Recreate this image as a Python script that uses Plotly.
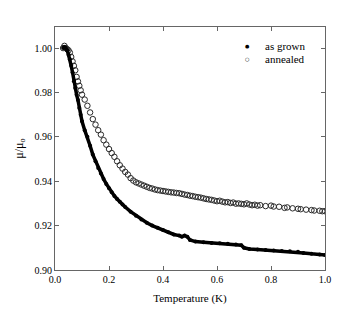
import plotly.graph_objects as go

# as grown (filled circles)
grown_T = [0.03, 0.035, 0.04, 0.045, 0.05, 0.055, 0.06, 0.065, 0.07, 0.075, 0.08, 0.085, 0.09, 0.095,
           0.10, 0.11, 0.12, 0.13, 0.14, 0.15, 0.16, 0.17, 0.18, 0.19, 0.20, 0.21, 0.22, 0.23, 0.24, 0.25,
           0.26, 0.28, 0.30, 0.32, 0.34, 0.36, 0.38, 0.40, 0.42, 0.44, 0.46, 0.47, 0.48, 0.49, 0.50, 0.52,
           0.55, 0.58, 0.61, 0.64, 0.67, 0.69, 0.70, 0.72, 0.75, 0.78, 0.81, 0.84, 0.87, 0.90, 0.92, 0.95,
           0.98, 1.00]
grown_mu = [1.000, 1.0005, 1.000, 0.999, 0.997, 0.995, 0.992, 0.989, 0.985, 0.982, 0.979, 0.9766, 0.973, 0.970,
            0.967, 0.963, 0.960, 0.956, 0.952, 0.949, 0.946, 0.9435, 0.941, 0.9388, 0.9368, 0.935, 0.9334, 0.932, 0.9307, 0.9295,
            0.9284, 0.9263, 0.9245, 0.9228, 0.9213, 0.920, 0.919, 0.918, 0.917, 0.916, 0.9155, 0.915, 0.9155, 0.915, 0.9135, 0.9128,
            0.9125, 0.9122, 0.912, 0.9118, 0.9115, 0.9112, 0.910, 0.9095, 0.9092, 0.909, 0.9088, 0.9086, 0.9084, 0.9082, 0.9077, 0.9073,
            0.907, 0.9068]

# annealed (open circles)
ann_T = [0.03, 0.035, 0.04, 0.045, 0.05, 0.055, 0.06, 0.065, 0.07, 0.075, 0.08, 0.085, 0.09, 0.095,
         0.10, 0.11, 0.12, 0.13, 0.14, 0.15, 0.16, 0.17, 0.18, 0.19, 0.20, 0.21, 0.22, 0.23, 0.24, 0.25,
         0.26, 0.27, 0.28, 0.29, 0.30, 0.31, 0.32, 0.33, 0.34, 0.35, 0.36, 0.37, 0.38, 0.39, 0.40, 0.41,
         0.42, 0.43, 0.44, 0.45, 0.46, 0.47, 0.48, 0.49, 0.50, 0.51, 0.52, 0.53, 0.54, 0.55, 0.56, 0.57,
         0.58, 0.59, 0.60, 0.61, 0.62, 0.63, 0.64, 0.65, 0.66, 0.67, 0.68, 0.69, 0.70, 0.71, 0.72, 0.73,
         0.74, 0.75, 0.76, 0.78, 0.80, 0.81, 0.83, 0.85, 0.86, 0.88, 0.90, 0.91, 0.93, 0.95, 0.96, 0.98,
         0.99, 1.00]
ann_mu = [1.000, 1.001, 1.000, 0.9995, 0.999, 0.998, 0.996, 0.994, 0.992, 0.990, 0.987, 0.985, 0.983, 0.981,
          0.979, 0.9768, 0.974, 0.971, 0.968, 0.9655, 0.963, 0.961, 0.9585, 0.9565, 0.9545, 0.9527, 0.951, 0.949, 0.9472, 0.9457,
          0.9442, 0.943, 0.9414, 0.9403, 0.9395, 0.939, 0.9385, 0.938, 0.9375, 0.937, 0.9367, 0.9363, 0.936, 0.9358, 0.9356, 0.9354,
          0.9352, 0.935, 0.9349, 0.9347, 0.9346, 0.9343, 0.934, 0.9338, 0.9335, 0.9333, 0.933, 0.9328, 0.9326, 0.9323, 0.932, 0.9318,
          0.9316, 0.9313, 0.931, 0.9312, 0.9308, 0.9305, 0.9306, 0.9302, 0.9304, 0.9299, 0.930, 0.9298, 0.9296, 0.930, 0.9295, 0.9292,
          0.9294, 0.929, 0.9292, 0.9288, 0.929, 0.9286, 0.9285, 0.928, 0.9282, 0.9278, 0.9276, 0.9274, 0.9272, 0.927, 0.9268, 0.9267,
          0.9265, 0.9265]

series_names = ["as grown", "annealed"]
series_symbols = ["●", "○"]

x_ticks = [0.0, 0.2, 0.4, 0.6, 0.8, 1.0]
y_ticks = [0.90, 0.92, 0.94, 0.96, 0.98, 1.00]

SERIF = "Liberation Serif, Times New Roman, Times, serif"

fig = go.Figure()
fig.add_trace(go.Scatter(x=ann_T, y=ann_mu, mode="markers", name=series_names[1],
                         marker=dict(symbol="circle-open", size=5.5, color="#2a2a2a", line=dict(width=1)),
                         showlegend=False))
fig.add_trace(go.Scatter(x=grown_T, y=grown_mu, mode="lines+markers", name=series_names[0],
                         line=dict(color="black", width=3.5),
                         marker=dict(symbol="circle", size=4, color="black"),
                         showlegend=False))

axis_common = dict(showline=True, linecolor="#666666", linewidth=1, mirror="ticks",
                   ticks="inside", ticklen=4, tickcolor="#666666", showgrid=False, zeroline=False,
                   automargin=False,
                   tickfont=dict(family=SERIF, size=10, color="black"))

fig.update_xaxes(range=[0, 1], tickvals=x_ticks, ticktext=[f"{v:.1f}" for v in x_ticks],
                 title=dict(text="Temperature (K)", font=dict(family=SERIF, size=11, color="black"), standoff=10),
                 **axis_common)
fig.update_yaxes(range=[0.90, 1.0095], tickvals=y_ticks, ticktext=[f"{v:.2f}" for v in y_ticks],
                 title=dict(text="μ/μ<sub>o</sub>", font=dict(family=SERIF, size=12, color="black"), standoff=8),
                 **axis_common)

# legend drawn as text annotations (symbol + label)
leg_rows_y = [0.922, 0.868]
annotations = []
for name, sym, yy in zip(series_names, series_symbols, leg_rows_y):
    annotations.append(dict(x=0.714, y=yy, xref="paper", yref="paper", text=sym, showarrow=False,
                            xanchor="center", yanchor="middle",
                            font=dict(family="DejaVu Sans", size=5, color="black")))
    annotations.append(dict(x=0.77, y=yy, xref="paper", yref="paper", text=name, showarrow=False,
                            xanchor="left", yanchor="middle",
                            font=dict(family=SERIF, size=11, color="black")))

fig.update_layout(width=333, height=306, margin=dict(l=47, r=16, t=19, b=44),
                  plot_bgcolor="white", paper_bgcolor="white", showlegend=False,
                  annotations=annotations)

fig.write_html("out.html")
